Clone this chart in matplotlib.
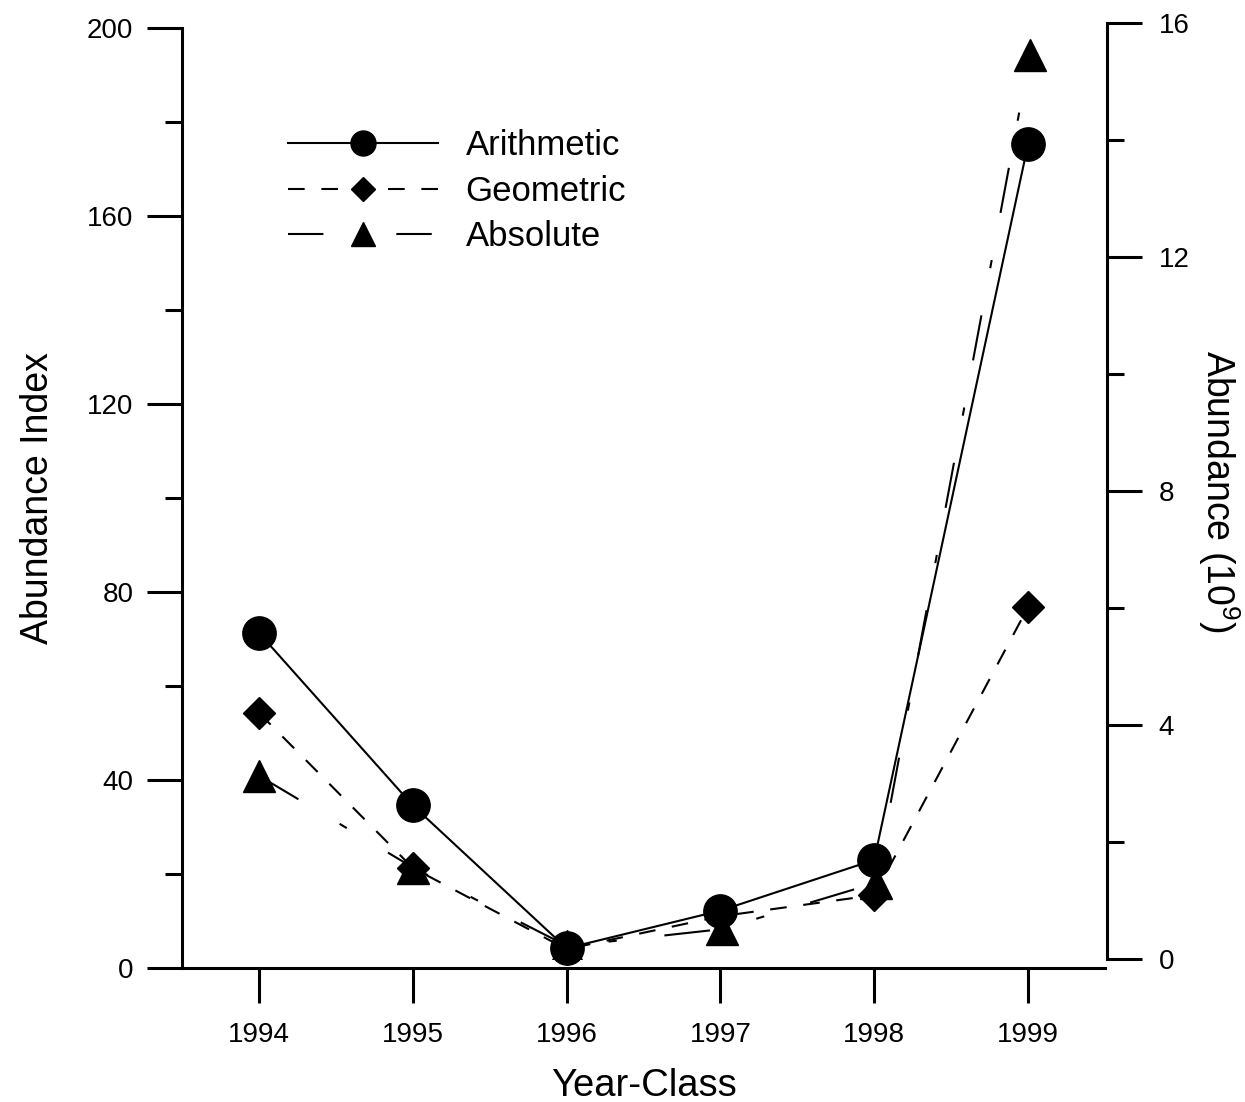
import matplotlib.pyplot as plt
from matplotlib.lines import Line2D
from matplotlib.ticker import MultipleLocator

plt.rcParams['font.family'] = ['Liberation Sans', 'DejaVu Sans']
plt.rcParams['mathtext.fontset'] = 'custom'
plt.rcParams['mathtext.rm'] = 'Liberation Sans'
plt.rcParams['mathtext.default'] = 'regular'

years = [1994, 1995, 1996, 1997, 1998, 1999]
arithmetic = [71.3, 34.6, 4.2, 12.2, 23.0, 175.3]   # abundance index
geometric = [54.3, 21.3, 4.0, 11.0, 15.5, 76.8]     # abundance index
absolute = [3.13, 1.56, 0.22, 0.51, 1.3, 15.45]     # abundance (10^9)

W, H = 1245, 1102
fig = plt.figure(figsize=(W / 100, H / 100), dpi=100)

# right axis (absolute), sits slightly offset from the main one
ax2 = fig.add_axes([182 / W, (H - 959) / H, (1107 - 182) / W, (959 - 22.7) / H])
ax = fig.add_axes([182 / W, (H - 968) / H, (1105 - 182) / W, (968 - 28) / H])
ax.patch.set_visible(False)

lw = 1.5
l3, = ax2.plot(years, absolute, color='black', lw=lw, marker='^', ms=23,
               linestyle=(0, (22, 23, 4, 23)), label='Absolute')
l1, = ax.plot(years, arithmetic, color='black', lw=lw, marker='o', ms=24,
              linestyle='-', label='Arithmetic')
l2, = ax.plot(years, geometric, color='black', lw=lw, marker='D', ms=16.5,
              linestyle=(0, (8, 8)), label='Geometric')

for a in (ax, ax2):
    a.set_xlim(1993.5, 1999.5)
    for s in a.spines.values():
        s.set_linewidth(2.2)

ax.spines['top'].set_visible(False)
ax.spines['right'].set_visible(False)
ax.set_ylim(0, 200)
ax.yaxis.set_major_locator(MultipleLocator(40))
ax.yaxis.set_minor_locator(MultipleLocator(20))
ax.set_xticks(years)
ax.set_xticklabels([str(y) for y in years])
ax.tick_params(axis='both', which='major', direction='out', length=25, width=2.2,
               labelsize=20, pad=10)
ax.tick_params(axis='y', which='minor', direction='out', length=12, width=2.2)
ax.tick_params(axis='x', pad=14)
ax.set_xlabel('Year-Class', fontsize=27.5, labelpad=14)
ax.set_ylabel('Abundance Index', fontsize=27, labelpad=22)

for side in ('top', 'left', 'bottom'):
    ax2.spines[side].set_visible(False)
ax2.set_xticks([])
ax2.set_ylim(0, 16)
ax2.yaxis.tick_right()
ax2.yaxis.set_label_position('right')
ax2.yaxis.set_major_locator(MultipleLocator(4))
ax2.yaxis.set_minor_locator(MultipleLocator(2))
ax2.tick_params(axis='y', which='major', direction='out', length=25, width=2.2,
                labelsize=20, pad=12)
ax2.tick_params(axis='y', which='minor', direction='out', length=12, width=2.2)
ax2.set_ylabel('Abundance (10$^{9}$)', fontsize=27, rotation=-90, labelpad=38)

# legend proxy so the absolute handle shows dash - marker - dash
abs_handle = Line2D([], [], color='black', lw=lw, marker='^', ms=23,
                    linestyle=(0, (17, 35)))
ax.legend(handles=[l1, l2, abs_handle], labels=['Arithmetic', 'Geometric', 'Absolute'],
          loc='upper left', bbox_to_anchor=(271 / W, 1 - 112 / H),
          bbox_transform=fig.transFigure, frameon=False, fontsize=25, borderpad=0,
          handlelength=4.3, handletextpad=0.8, labelspacing=0.36, markerscale=0.75,
          numpoints=1)

fig.savefig('out.png', dpi=100, facecolor='white')
